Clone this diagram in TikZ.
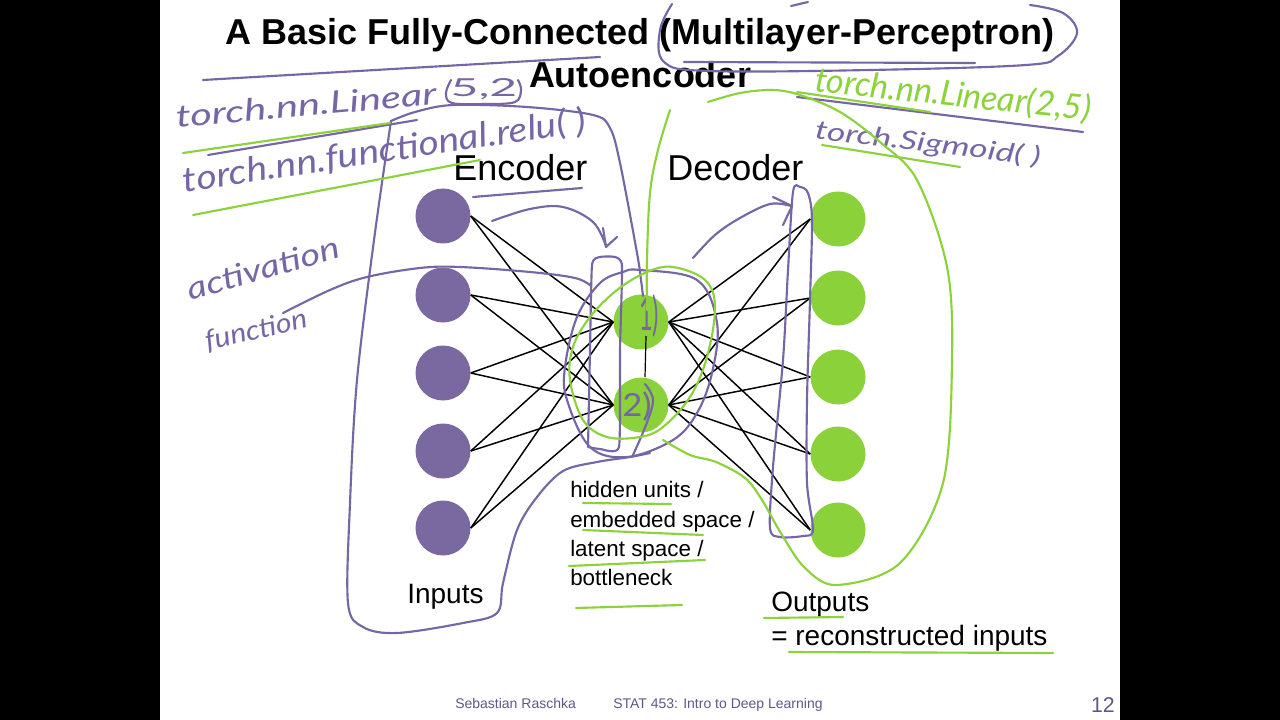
\documentclass[tikz,border=0pt]{standalone}
\usepackage{fontspec}
\usepackage{graphicx}
\setmainfont{Liberation Sans}
\newfontfamily\hand{Lato}
\definecolor{nodepurple}{RGB}{122,104,160}
\definecolor{nodegreen}{RGB}{138,209,58}
\definecolor{annpurple}{RGB}{118,102,165}
\definecolor{anngreen}{RGB}{140,211,59}
\definecolor{footc}{RGB}{95,88,135}
\newcommand\hw[3]{\resizebox{#1}{#2}{\hand\itshape #3}}
\tikzset{
  pnode/.style={circle, fill=nodepurple, minimum size=41.25pt, inner sep=0pt},
  gnode/.style={circle, fill=nodegreen, minimum size=41.25pt, inner sep=0pt},
  conn/.style={draw=black, line width=1.1pt},
  pen/.style={line width=1.6pt, line cap=round, line join=round},
  ppen/.style={pen, draw=annpurple},
  gpen/.style={pen, draw=anngreen},
  ptxt/.style={text=annpurple, inner sep=0pt},
  gtxt/.style={text=anngreen, inner sep=0pt},
  title/.style={font=\fontsize{27}{30}\selectfont\bfseries, inner sep=0pt, anchor=base},
  head/.style={font=\fontsize{27}{30}\selectfont, inner sep=0pt, anchor=base west},
  lab/.style={font=\fontsize{21}{24}\selectfont, inner sep=0pt, anchor=base west},
  small/.style={font=\fontsize{16.8}{20}\selectfont, inner sep=0pt, anchor=base west},
  foot/.style={font=\fontsize{10.5}{12}\selectfont, text=footc, inner sep=0pt, anchor=base west}
}
\begin{document}
\begin{tikzpicture}[x=0.75pt,y=-0.75pt]
\useasboundingbox (0,0) rectangle (1280,720);
\fill[black] (0,0) rectangle (160,720);
\fill[black] (1120,0) rectangle (1280,720);
\fill[white] (160,0) rectangle (1120,720);

% titles
\node[title] (t1) at (640,45) {A Basic Fully-Connected (Multilayer-Perceptron)};
\node[title] (t2) at (640,88) {Autoencoder};
\node[head] (enc) at (453,181) {Encoder};
\node[head] (dec) at (667,181) {Decoder};

% nodes
\foreach \i/\y in {1/216,2/295,3/373,4/451,5/528}
  \node[pnode] (i\i) at (443,\y) {};
\node[gnode] (h1) at (641,322) {};
\node[gnode] (h2) at (641,405) {};
\foreach \i/\y in {1/219,2/298,3/377,4/454,5/530}
  \node[gnode] (o\i) at (838,\y) {};

% connectors
\foreach \i in {1,...,5}
  \foreach \j in {1,2} {
    \draw[conn] (i\i.east) -- (h\j.west);
    \draw[conn] (h\j.east) -- (o\i.west);
  }

% labels
\node[lab] (inp) at (407,603) {Inputs};
\node[small] (l1) at (570,497) {hidden units /};
\node[small] (l2) at (570,527) {embedded space /};
\node[small] (l3) at (570,556) {latent space /};
\node[small] (l4) at (570,585) {bottleneck};
\node[lab] (out1) at (771,611) {Outputs};
\node[lab] (out2) at (771,645) {= reconstructed inputs};

% footer
\node[foot] (f1) at (455,708) {Sebastian Raschka};
\node[foot] (f2) at (613,708) {STAT 453: Intro to Deep Learning};
\node[font=\fontsize{16}{18}\selectfont, text=footc, inner sep=0pt, anchor=base east] (pg) at (1115,712) {12};

% ---------- purple annotations ----------
% title oval and underlines
\draw[ppen] plot[smooth, tension=0.6] coordinates {(672,4) (660,30) (664,62) (709,71) (870,70) (1026,65) (1058,56) (1077,33) (1063,13) (1030,5)};
\draw[ppen] (684,62) -- (975,63);
\draw[ppen] (791,6) -- (808,2);
\draw[ppen] (203,80) -- (600,57);
% handwritten code
\node[ptxt, anchor=base, rotate=5] (hw1) at (307,116) {\hw{196pt}{17pt}{torch.nn.Linear}};
\node[ptxt] (hw2) at (484,89) {\resizebox*{50pt}{16pt}{\hand 5,2}};
\draw[ppen] plot[smooth, tension=0.6] coordinates {(451,80) (446,93) (452,103) (485,104) (515,102) (521,90) (518,80)};
\draw[ppen] (208,155) -- (417,120);
\node[ptxt, anchor=base, rotate=8.6] (hw3) at (386,162) {\hw{305pt}{20pt}{torch.nn.functional.relu( )}};
\node[ptxt, anchor=base, rotate=16] (hw4) at (266,279) {\hw{118pt}{17pt}{activation}};
\node[ptxt, anchor=base, rotate=13] (hw5) at (258,339) {\hw{78pt}{15pt}{function}};
\node[ptxt, anchor=base, rotate=-6.8] (hw6) at (927,152) {\hw{170pt}{15pt}{torch.Sigmoid( )}};
% encoder underline and arrows
\draw[ppen] (473,197) -- (582,188);
\draw[ppen] plot[smooth, tension=0.6] coordinates {(492,221) (530,209) (563,207) (593,222) (606,246)};
\draw[ppen] (603,228) -- (606,247) -- (617,237);
\draw[ppen] plot[smooth, tension=0.6] coordinates {(693,258) (715,235) (740,218) (770,204) (791,206)};
\draw[ppen] (773,197) -- (792,206) -- (783,225);
% encoder enclosure
\draw[ppen] plot[smooth, tension=0.55] coordinates {(650,453) (630,457) (597,462) (563,471) (537,497) (517,530) (503,583) (497,613) (463,623) (397,633) (363,627) (348,603) (350,503) (357,380) (374,240) (391,121)};
\draw[ppen] plot[smooth, tension=0.55] coordinates {(391,121) (415,112) (453,105) (527,107) (593,115) (610,128) (620,163) (637,253) (641,280) (643,296)};
% activation curve
\draw[ppen] plot[smooth, tension=0.6] coordinates {(283,313) (330,290) (367,277) (420,268) (460,267) (530,272) (575,278) (591,286)};
% narrow box on encoder side
\draw[ppen] plot[smooth, tension=0.3] coordinates {(588,447) (590,350) (592,265) (600,257) (615,257) (622,266) (620,350) (619,447) (600,449) (588,447)};
% oval around hidden units
\draw[ppen] plot[smooth cycle, tension=0.6] coordinates {(640,270) (697,280) (717,323) (712,373) (697,413) (673,440) (627,457) (590,447) (567,400) (565,367) (577,317) (600,283) (623,272)};
% 1) and 2)
\node[ptxt] (n1) at (649,316) {\resizebox*{15pt}{32pt}{\hand 1)}};
\node[ptxt] (n2) at (637,406) {\resizebox*{22pt}{22pt}{\hand 2)}};
\draw[ppen] plot[smooth, tension=0.6] coordinates {(645,384) (653,400) (646,425) (633,455)};
\draw[black, line width=0.9pt] (646,336) -- (645,377);
% narrow box on decoder side
\draw[ppen] plot[smooth cycle, tension=0.5] coordinates {(800,187) (808,193) (812,220) (810,300) (807,400) (807,483) (813,530) (803,536) (780,537) (770,528) (773,467) (783,360) (788,270) (793,192)};
% underline of torch.nn.Linear(2,5)
\draw[ppen] (797,97) -- (1083,132);

% ---------- green annotations ----------
\draw[gpen] (183,153) -- (390,123);
\draw[gpen] (193,215) -- (480,160);
\node[gtxt, anchor=base, rotate=-6] (hw7) at (952,106) {\hw{208pt}{20pt}{torch.nn.Linear(2,5)}};
\draw[gpen] (797,92) -- (930,112);
\draw[gpen] (822,145) -- (960,167);
% vertical green stroke
\draw[gpen] plot[smooth, tension=0.6] coordinates {(670,110) (658,150) (650,193) (647,260) (647,310)};
% green oval around hidden units
\draw[gpen] plot[smooth cycle, tension=0.6] coordinates {(673,267) (705,280) (715,307) (707,357) (690,397) (663,427) (640,437) (607,437) (583,420) (570,380) (573,347) (590,317) (617,290) (647,272)};
% big green enclosure of outputs
\draw[gpen] plot[smooth, tension=0.55] coordinates {(663,440) (690,455) (716,462) (745,478) (762,500) (782,535) (805,568) (837,585) (900,563) (943,483) (952,360) (947,267) (917,180) (880,142) (840,112) (800,95) (773,90) (740,93) (708,102)};
% underlines of labels
\draw[gpen] (583,503) -- (671,504);
\draw[gpen] (583,530) -- (703,535);
\draw[gpen] (569,566) -- (705,560);
\draw[gpen] (576,608) -- (682,605);
\draw[gpen] (764,618) -- (843,617);
\draw[gpen] (789,652) -- (1053,653);
\end{tikzpicture}
\end{document}
